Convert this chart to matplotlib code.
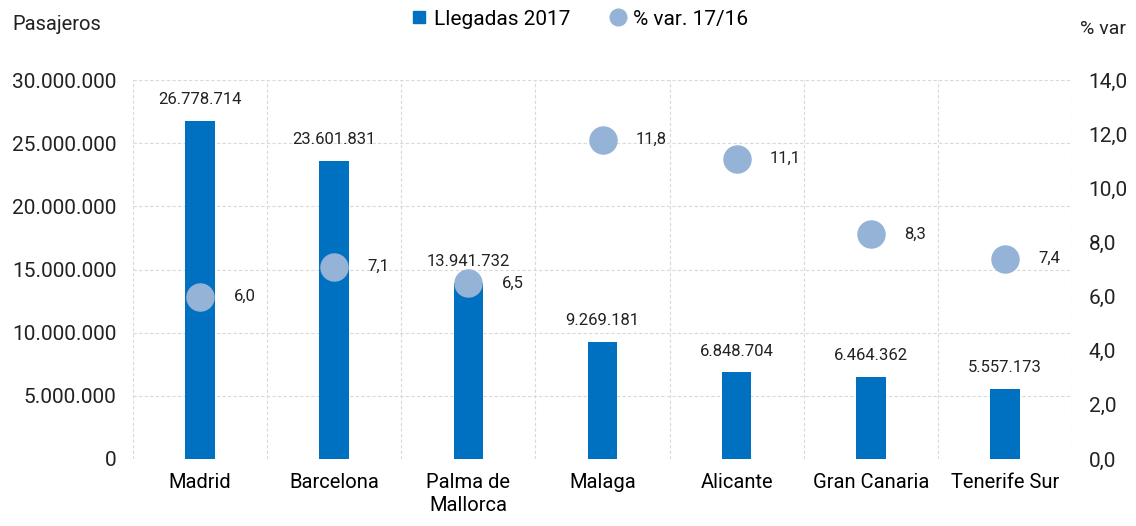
import numpy as np
import matplotlib.pyplot as plt
from matplotlib.ticker import FuncFormatter, MultipleLocator

plt.rcParams['font.family'] = ['Roboto', 'DejaVu Sans']

aeropuertos = ["Madrid", "Barcelona", "Palma de\nMallorca", "Malaga", "Alicante", "Gran Canaria", "Tenerife Sur"]
llegadas = [26778714, 23601831, 13941732, 9269181, 6848704, 6464362, 5557173]
var_pct = [6.0, 7.1, 6.5, 11.8, 11.1, 8.3, 7.4]

bar_color = "#0070C0"
dot_color = "#95B3D7"


def miles(v):
    return f"{int(round(v)):,}".replace(",", ".")


def coma(v):
    return f"{v:.1f}".replace(".", ",")


fig = plt.figure(figsize=(11.36, 5.26), dpi=100)
ax = fig.add_axes([133 / 1136, 1 - 459 / 526, (1072 - 133) / 1136, (459 - 80) / 526])
ax2 = ax.twinx()

x = np.arange(len(aeropuertos))
ax.bar(x, llegadas, width=0.22, color=bar_color, zorder=2)
for xi, v in zip(x, llegadas):
    ax.annotate(miles(v), (xi, v), xytext=(0, 10), textcoords="offset points",
                ha="center", va="bottom", fontsize=12, color="#222222")

ax.set_xlim(-0.5, len(aeropuertos) - 0.5)
ax.set_ylim(0, 30000000)
ax.yaxis.set_major_locator(MultipleLocator(5000000))
ax.yaxis.set_major_formatter(FuncFormatter(lambda v, p: miles(v)))
ax.set_xticks(x)
ax.set_xticklabels(aeropuertos, fontsize=14.5, linespacing=1.3)
ax.set_xticks(np.arange(-0.5, len(aeropuertos), 0.5), minor=True)
ax.tick_params(axis="x", which="both", length=0, pad=10)
ax.tick_params(axis="y", length=0, labelsize=15, pad=12, colors="#222222")
ax.grid(True, axis="y", linestyle=(0, (3, 2)), color="#D9D9D9", linewidth=0.8, zorder=0)
ax.grid(True, axis="x", which="minor", linestyle=(0, (3, 2)), color="#D9D9D9", linewidth=0.8, zorder=0)
ax.set_axisbelow(True)
for s in ax.spines.values():
    s.set_visible(False)

ax2.scatter(x, var_pct, s=380, color=dot_color, zorder=3)
for xi, v in zip(x, var_pct):
    ax2.annotate(coma(v), (xi, v), xytext=(24, 0), textcoords="offset points",
                 ha="left", va="center", fontsize=12, color="#222222")
ax2.set_ylim(0, 14)
ax2.yaxis.set_major_locator(MultipleLocator(2))
ax2.yaxis.set_major_formatter(FuncFormatter(lambda v, p: coma(v)))
ax2.tick_params(axis="y", length=0, labelsize=15, pad=12, colors="#222222")
for s in ax2.spines.values():
    s.set_visible(False)

fig.text(12 / 1136, 1 - 24 / 526, "Pasajeros", fontsize=14.5, va="center", ha="left", color="#222222")
fig.text(1126 / 1136, 1 - 29 / 526, "% var", fontsize=14, va="center", ha="right", color="#222222")

h1 = plt.Line2D([], [], marker="s", linestyle="", color=bar_color, markersize=8)
h2 = plt.Line2D([], [], marker="o", linestyle="", color=dot_color, markersize=12)
fig.legend([h1, h2], ["Llegadas 2017", "% var. 17/16"], loc="center", bbox_to_anchor=(0.51, 1 - 19 / 526),
           ncol=2, frameon=False, fontsize=15, handlelength=0.8, handletextpad=0.3, columnspacing=1.9)

fig.savefig("out.png", dpi=100)
